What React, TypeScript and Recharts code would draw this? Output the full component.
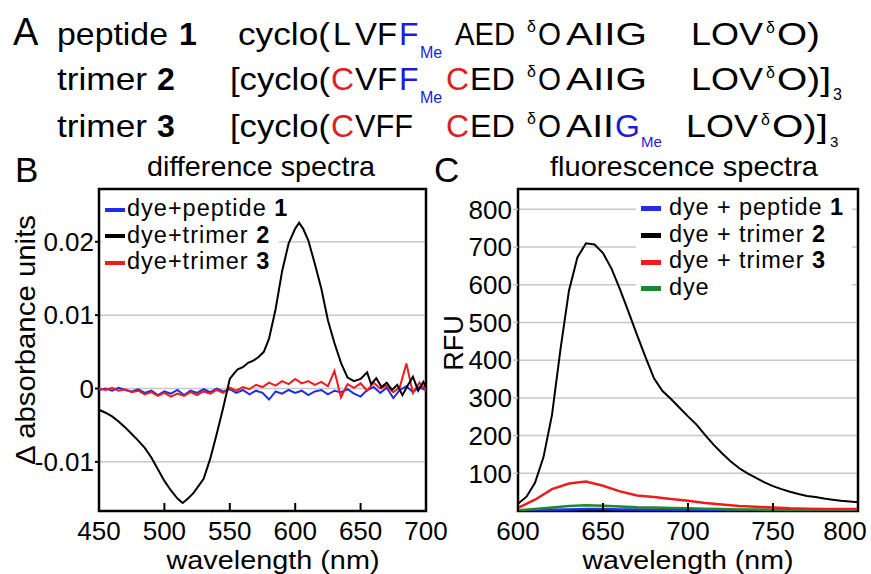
import React from 'react';
import { LineChart, Line, XAxis, YAxis, CartesianGrid, ReferenceArea, Legend } from 'recharts';

const FONT = '"Liberation Sans", Arial, Helvetica, sans-serif';
const BLUE = '#1f2ee6';
const RED = '#f01c1c';
const GREEN = '#1c8a2a';
const BLACK = '#000';
const GRID = '#c8c8c8';
const HEAD_BLUE = '#1c1cd8';
const HEAD_RED = '#e02020';

// ---- panel B: difference spectra ----
const B_WL = [
  450, 455, 460, 465, 470, 475, 480, 485, 490, 495, 500, 505, 510, 515, 520, 525, 530,
  535, 540, 545, 550, 555, 560, 565, 570, 575, 580, 585, 590, 595, 600, 605, 610, 615,
  620, 625, 630, 635, 640, 645, 650, 655, 660, 665, 670, 675, 680, 685, 690, 695, 700,
];
const B_PEPTIDE1 = [
  -0.0002, 0.0, -0.0003, 0.0001, -0.0002, -0.0004, -0.0001, -0.0006, -0.0003, -0.0009,
  -0.0004, -0.0007, -0.0002, -0.0009, -0.0003, -0.0006, -0.0001, -0.0005, 0.0, -0.0004,
  -0.0001, -0.0006, -0.0002, -0.0008, -0.0003, -0.0006, -0.0015, -0.0004, -0.0007, -0.0002,
  -0.0006, -0.0003, -0.0009, -0.0004, -0.0002, -0.0008, -0.0003, -0.0005, -0.0001, -0.0007,
  -0.0011, -0.0002, 0.0002, -0.0006, 0.0001, -0.0013, -0.0002, 0.0003, -0.0005, 0.0002,
  -0.0003,
];
const B_TRIMER3 = [
  0.0, -0.0002, 0.0001, -0.0003, -0.0001, -0.0005, -0.0003, -0.0008, -0.0005, -0.001,
  -0.0006, -0.0011, -0.0007, -0.001, -0.0005, -0.0009, -0.0004, -0.0007, -0.0002, -0.0006,
  0.0001, -0.0003, 0.0002, -0.0001, 0.0005, 0.0002, 0.0008, 0.0004, 0.001, 0.0006,
  0.0013, 0.0007, 0.001, 0.0005, 0.0009, 0.0003, 0.0024, -0.0012, 0.0006, 0.0001,
  0.0007, -0.0003, 0.0008, 0.0, 0.0004, -0.0005, 0.0002, 0.0034, -0.0006, 0.0008,
  -0.0002,
];
const B_TRIMER2_WL = [
  450, 455, 460, 465, 470, 475, 480, 485, 490, 495, 500, 505, 510, 514, 518, 522, 526, 530,
  535, 540, 545, 550, 553, 556, 560, 564, 568, 572, 576, 580, 585, 590, 595, 600, 603, 606,
  610, 615, 620, 625, 630, 635, 640, 645, 650, 655, 658, 662, 666, 670, 674, 678, 682, 686,
  690, 694, 698, 700,
];
const B_TRIMER2 = [
  -0.0029, -0.0033, -0.0038, -0.0045, -0.0053, -0.0062, -0.0071, -0.0081, -0.0094, -0.011,
  -0.0126, -0.0139, -0.015, -0.0156, -0.015, -0.0143, -0.0133, -0.0123, -0.0096, -0.0062,
  -0.0026, 0.0013, 0.002, 0.0026, 0.0029, 0.0035, 0.0038, 0.0043, 0.005, 0.0068,
  0.0108, 0.016, 0.0198, 0.0218, 0.0226, 0.0218, 0.0202, 0.017, 0.0136, 0.0093,
  0.0062, 0.0035, 0.0015, 0.001, 0.0013, 0.0022, 0.0006, 0.0014, 0.0002, 0.0008,
  -0.0002, 0.0005, -0.0009, 0.0004, 0.0016, -0.0003, 0.0009, 0.0001,
];
const B_X_TICKS = [450, 500, 550, 600, 650, 700];
const B_Y_TICKS = [-0.01, 0, 0.01, 0.02];
const B_Y_DOMAIN = [-0.0167, 0.0272];

// ---- panel C: fluorescence spectra ----
const C_WL5 = [
  600, 605, 610, 615, 620, 625, 630, 635, 640, 645, 650, 655, 660, 665, 670, 675, 680,
  685, 690, 695, 700, 705, 710, 715, 720, 725, 730, 735, 740, 745, 750, 755, 760, 765,
  770, 775, 780, 785, 790, 795, 800,
];
const C_TRIMER2 = [
  19, 38, 75, 143, 255, 429, 585, 673, 710, 707, 684, 643, 588, 528, 467, 408, 352, 318,
  297, 274, 251, 229, 202, 176, 153, 132, 114, 100, 88, 76, 66, 58, 51, 45, 40, 37, 33,
  30, 27, 25, 23,
];
const C_WL10 = [
  600, 610, 620, 630, 640, 650, 660, 670, 680, 690, 700, 710, 720, 730, 740, 750, 760, 770,
  780, 790, 800,
];
const C_TRIMER3 = [8, 30, 58, 73, 78, 67, 52, 41, 37, 32, 27, 21, 17, 13, 11, 9, 7, 6, 5, 5, 5];
const C_DYE = [2, 5, 9, 13, 15, 14, 12, 10, 9, 8, 7, 6, 5, 4, 4, 3, 3, 2, 2, 2, 2];
const C_PEPTIDE1 = [1, 2, 3, 4, 5, 5, 4, 4, 3, 3, 3, 2, 2, 2, 2, 2, 1, 1, 1, 1, 1];
const C_X_TICKS = [600, 650, 700, 750, 800];
const C_Y_TICKS = [100, 200, 300, 400, 500, 600, 700, 800];
const C_Y_DOMAIN = [0, 854];

const zip = (xs: number[], ys: number[]) => xs.map((w, i) => ({ w, v: ys[i] }));

const bPeptide1 = zip(B_WL, B_PEPTIDE1);
const bTrimer3 = zip(B_WL, B_TRIMER3);
const bTrimer2 = zip(B_TRIMER2_WL, B_TRIMER2);
const cTrimer2 = zip(C_WL5, C_TRIMER2);
const cTrimer3 = zip(C_WL10, C_TRIMER3);
const cDye = zip(C_WL10, C_DYE);
const cPeptide1 = zip(C_WL10, C_PEPTIDE1);

// bottom ticks: inward tick mark + label below
const xTick = (lastValue: number, lastShift: number) => (props: any) => {
  const { x, y, payload } = props;
  const dx = payload.value === lastValue ? lastShift : 0;
  return (
    <g>
      <line x1={x} x2={x} y1={y} y2={y - 8} stroke={BLACK} strokeWidth={2} />
      <text x={x + dx} y={y + 29} textAnchor="middle" fontSize={26} fill={BLACK}>
        {payload.value}
      </text>
    </g>
  );
};

interface LegendItem {
  color: string;
  text: string;
  num?: string;
}

const LegendBox = ({
  items,
  sampleW,
  sampleH,
  gap,
  fontSize,
  rowH,
  padL,
  spacing,
}: {
  items: LegendItem[];
  sampleW: number;
  sampleH: number;
  gap: number;
  fontSize: number;
  rowH: number;
  padL: number;
  spacing: number;
}) => (
  <div
    style={{
      background: '#fff',
      paddingLeft: padL,
      fontSize,
      lineHeight: `${rowH}px`,
      color: BLACK,
      whiteSpace: 'nowrap',
      fontFamily: FONT,
      letterSpacing: spacing,
    }}
  >
    {items.map((it) => (
      <div key={it.text + (it.num || '')} style={{ height: rowH }}>
        <span
          style={{
            display: 'inline-block',
            width: sampleW,
            height: sampleH,
            background: it.color,
            verticalAlign: 'middle',
            marginRight: gap,
          }}
        />
        {it.text}
        {it.num && <b>{it.num}</b>}
      </div>
    ))}
  </div>
);

const B_LEGEND: LegendItem[] = [
  { color: BLUE, text: 'dye+peptide ', num: '1' },
  { color: BLACK, text: 'dye+trimer ', num: '2' },
  { color: RED, text: 'dye+trimer ', num: '3' },
];
const C_LEGEND: LegendItem[] = [
  { color: BLUE, text: 'dye + peptide ', num: '1' },
  { color: BLACK, text: 'dye + trimer ', num: '2' },
  { color: RED, text: 'dye + trimer ', num: '3' },
  { color: GREEN, text: 'dye' },
];

const fmtB = (v: number) => (v === 0 ? '0' : v.toFixed(2));

const PanelB = () => (
  <LineChart
    width={460}
    height={424}
    margin={{ top: 39, right: 34, bottom: 23, left: 39 }}
    style={{ position: 'absolute', left: 0, top: 150 }}
  >
    <CartesianGrid vertical={false} stroke={GRID} strokeWidth={1.5} />
    <XAxis
      type="number"
      dataKey="w"
      domain={[450, 700]}
      ticks={B_X_TICKS}
      interval={0}
      height={40}
      tickSize={0}
      tickMargin={0}
      axisLine={false}
      tickLine={false}
      tick={xTick(-1, 0)}
      allowDataOverflow
    />
    <YAxis
      type="number"
      domain={B_Y_DOMAIN}
      ticks={B_Y_TICKS}
      tickFormatter={fmtB}
      width={60}
      tickSize={4}
      tickMargin={1}
      axisLine={false}
      tickLine={{ stroke: BLACK, strokeWidth: 2 }}
      tick={{ fontSize: 26, fill: BLACK }}
      allowDataOverflow
    />
    <Legend
      layout="horizontal"
      verticalAlign="middle"
      wrapperStyle={{ left: 101, top: 45, width: 178 }}
      content={() => (
        <LegendBox
          items={B_LEGEND}
          sampleW={20}
          sampleH={4}
          gap={2}
          fontSize={23.5}
          rowH={26.5}
          padL={4}
          spacing={1}
        />
      )}
    />
    <Line data={bPeptide1} dataKey="v" stroke={BLUE} strokeWidth={2} dot={false} isAnimationActive={false} />
    <Line data={bTrimer3} dataKey="v" stroke={RED} strokeWidth={2} dot={false} isAnimationActive={false} />
    <Line data={bTrimer2} dataKey="v" stroke={BLACK} strokeWidth={2} dot={false} isAnimationActive={false} />
    <ReferenceArea x1={450} x2={700} y1={B_Y_DOMAIN[0]} y2={B_Y_DOMAIN[1]} fill="none" stroke={BLACK} strokeWidth={2.5} />
  </LineChart>
);

const PanelC = () => (
  <LineChart
    width={441}
    height={424}
    margin={{ top: 39, right: 13, bottom: 23, left: 28 }}
    style={{ position: 'absolute', left: 430, top: 150 }}
  >
    <CartesianGrid vertical={false} stroke={GRID} strokeWidth={1.5} />
    <XAxis
      type="number"
      dataKey="w"
      domain={[600, 800]}
      ticks={C_X_TICKS}
      interval={0}
      height={40}
      tickSize={0}
      tickMargin={0}
      axisLine={false}
      tickLine={false}
      tick={xTick(800, -13)}
      allowDataOverflow
    />
    <YAxis
      type="number"
      domain={C_Y_DOMAIN}
      ticks={C_Y_TICKS}
      width={60}
      tickSize={5}
      tickMargin={1}
      axisLine={false}
      tickLine={{ stroke: GRID, strokeWidth: 1.5 }}
      tick={{ fontSize: 26, fill: BLACK }}
      allowDataOverflow
    />
    <Legend
      layout="horizontal"
      verticalAlign="middle"
      wrapperStyle={{ left: 206, top: 44, width: 216 }}
      content={() => (
        <LegendBox
          items={C_LEGEND}
          sampleW={20}
          sampleH={5}
          gap={8}
          fontSize={23.5}
          rowH={26.7}
          padL={5}
          spacing={0.9}
        />
      )}
    />
    <Line data={cPeptide1} dataKey="v" stroke={BLUE} strokeWidth={2.5} dot={false} isAnimationActive={false} />
    <Line data={cDye} dataKey="v" stroke={GREEN} strokeWidth={2.5} dot={false} isAnimationActive={false} />
    <Line data={cTrimer3} dataKey="v" stroke={RED} strokeWidth={2.5} dot={false} isAnimationActive={false} />
    <Line data={cTrimer2} dataKey="v" stroke={BLACK} strokeWidth={2} dot={false} isAnimationActive={false} />
    <ReferenceArea x1={600} x2={800} y1={C_Y_DOMAIN[0]} y2={C_Y_DOMAIN[1]} fill="none" stroke={BLACK} strokeWidth={2.5} />
  </LineChart>
);

// panel A sequences + panel letters, titles and axis titles
const T = (p: any) => {
  const { children, ...rest } = p;
  return (
    <text fontSize={32} fill={BLACK} {...rest} lengthAdjust={p.textLength ? 'spacingAndGlyphs' : undefined}>
      {children}
    </text>
  );
};

const Header = () => (
  <g>
    <T x={13} y={45} fontSize={38}>A</T>
    {/* line 1 */}
    <T x={57} y={45} textLength={111}>peptide</T>
    <T x={179} y={45} fontWeight="bold">1</T>
    <T x={238} y={45} textLength={92}>cyclo(</T>
    <T x={333} y={45}>L</T>
    <T x={355} y={45} textLength={42}>VF</T>
    <T x={399} y={45} fill={HEAD_BLUE}>F</T>
    <T x={420} y={58} fontSize={16} fill={HEAD_BLUE}>Me</T>
    <T x={455} y={45} textLength={60}>AED</T>
    <T x={527} y={32} fontSize={16}>δ</T>
    <T x={538} y={45} textLength={23}>O</T>
    <T x={566} y={45} textLength={81}>AIIG</T>
    <T x={691} y={45} textLength={72}>LOV</T>
    <T x={766} y={33} fontSize={16}>δ</T>
    <T x={777} y={45} textLength={43}>O)</T>
    {/* line 2 */}
    <T x={57} y={90} textLength={90}>trimer</T>
    <T x={157} y={90} fontWeight="bold">2</T>
    <T x={230} y={90} textLength={100}>[cyclo(</T>
    <T x={331} y={90} fill={HEAD_RED}>C</T>
    <T x={355} y={90} textLength={42}>VF</T>
    <T x={399} y={90} fill={HEAD_BLUE}>F</T>
    <T x={420} y={103} fontSize={16} fill={HEAD_BLUE}>Me</T>
    <T x={446} y={90} fill={HEAD_RED}>C</T>
    <T x={470} y={90} textLength={45}>ED</T>
    <T x={527} y={77} fontSize={16}>δ</T>
    <T x={538} y={90} textLength={23}>O</T>
    <T x={566} y={90} textLength={81}>AIIG</T>
    <T x={691} y={90} textLength={72}>LOV</T>
    <T x={766} y={78} fontSize={16}>δ</T>
    <T x={777} y={90} textLength={54}>O)]</T>
    <T x={833} y={100} fontSize={16}>3</T>
    {/* line 3 */}
    <T x={57} y={137} textLength={90}>trimer</T>
    <T x={157} y={137} fontWeight="bold">3</T>
    <T x={230} y={137} textLength={100}>[cyclo(</T>
    <T x={331} y={137} fill={HEAD_RED}>C</T>
    <T x={355} y={137} textLength={58}>VFF</T>
    <T x={446} y={137} fill={HEAD_RED}>C</T>
    <T x={470} y={137} textLength={45}>ED</T>
    <T x={527} y={124} fontSize={16}>δ</T>
    <T x={538} y={137} textLength={23}>O</T>
    <T x={566} y={137} textLength={48}>AII</T>
    <T x={615} y={137} fill={HEAD_BLUE}>G</T>
    <T x={641} y={147} fontSize={15} fill={HEAD_BLUE}>Me</T>
    <T x={686} y={137} textLength={72}>LOV</T>
    <T x={761} y={125} fontSize={16}>δ</T>
    <T x={772} y={137} textLength={56}>O)]</T>
    <T x={830} y={147} fontSize={15}>3</T>
  </g>
);

const Labels = () => (
  <g>
    <T x={15} y={182} fontSize={35}>B</T>
    <T x={434} y={182} fontSize={35}>C</T>
    <T x={261} y={176} fontSize={28} textAnchor="middle" textLength={228}>difference spectra</T>
    <T x={684} y={176} fontSize={28} textAnchor="middle" textLength={268}>fluorescence spectra</T>
    <T transform="translate(35 340) rotate(-90)" x={0} y={0} fontSize={28} textAnchor="middle" textLength={250}>
      Δ absorbance units
    </T>
    <T transform="translate(463 343) rotate(-90)" x={0} y={0} fontSize={27} textAnchor="middle">RFU</T>
    <T x={273} y={569} fontSize={25} textAnchor="middle" textLength={213}>wavelength (nm)</T>
    <T x={688} y={569} fontSize={25} textAnchor="middle" textLength={211}>wavelength (nm)</T>
  </g>
);

export default function App() {
  return (
    <div
      style={{
        position: 'absolute',
        left: 0,
        top: 0,
        width: 871,
        height: 574,
        background: '#fff',
        fontFamily: FONT,
        overflow: 'hidden',
      }}
    >
      <svg width={871} height={574} style={{ position: 'absolute', left: 0, top: 0 }}>
        <Header />
        <Labels />
      </svg>
      <PanelB />
      <PanelC />
    </div>
  );
}
